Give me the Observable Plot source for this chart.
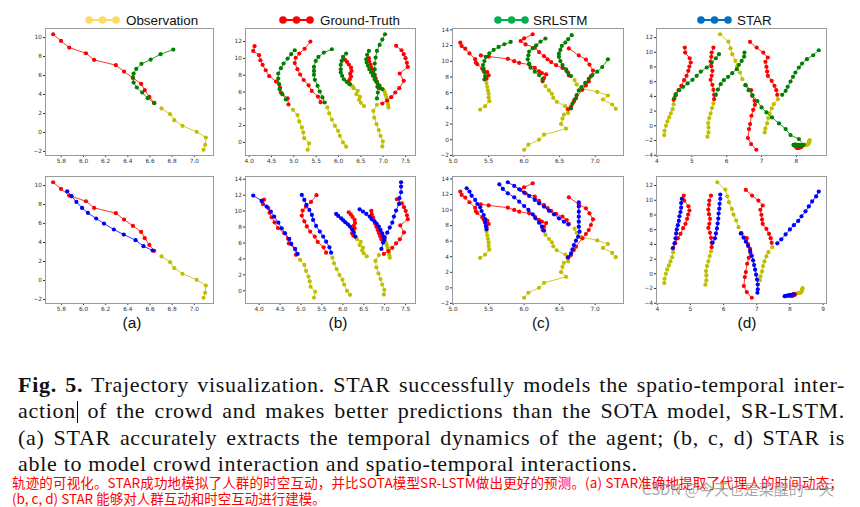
<!DOCTYPE html>
<html><head><meta charset="utf-8">
<script src="https://cdn.jsdelivr.net/npm/d3@7"></script>
<script src="https://cdn.jsdelivr.net/npm/@observablehq/plot@0.6"></script>
<style>
body{margin:0;background:#fff;width:860px;height:507px;position:relative;overflow:hidden;font-family:"Liberation Sans",Arial,sans-serif;}
.cap{position:absolute;left:18px;font-family:"Liberation Serif","DejaVu Serif",serif;font-size:22px;letter-spacing:0.7px;line-height:22px;color:#111;white-space:nowrap;}
.cap span.t{white-space:nowrap;display:inline-block;}
.cur{display:inline-block;width:1.2px;height:22px;background:#000;vertical-align:-5px;margin-left:1px;}
.cn{position:absolute;left:12px;font-family:"Noto Sans CJK SC",sans-serif;font-size:13.5px;line-height:15px;color:#ff0000;white-space:nowrap;}
.wm{position:absolute;left:642px;top:480px;font-family:"Noto Sans CJK SC",sans-serif;font-size:15px;line-height:17px;color:rgba(140,140,140,0.75);white-space:nowrap;}
.plab{position:absolute;font-family:"Liberation Sans",Arial,sans-serif;font-size:15.5px;color:#111;transform:translateX(-50%);}
</style></head><body>
<script>
// ---------------- DATA ----------------
// legend
const legendLabels = ["Observation", "Ground-Truth", "SRLSTM", "STAR"];
const legendColors = ["#ffd966", "#ff0000", "#00b050", "#0070c0"];
const panelLabels = ["(a)", "(b)", "(c)", "(d)"];

// tick values
const aXTicks = [5.8, 6.0, 6.2, 6.4, 6.6, 6.8, 7.0];
const aYTicks = [-2, 0, 2, 4, 6, 8, 10];
const bXTicks = [4.0, 4.5, 5.0, 5.5, 6.0, 6.5, 7.0, 7.5];
const bYTicks = [0, 2, 4, 6, 8, 10, 12, 14];
const cXTicks = [5.0, 5.5, 6.0, 6.5, 7.0];
const cYTicks = [-2, 0, 2, 4, 6, 8, 10, 12, 14];
const dXTicks = [4, 5, 6, 7, 8, 9];
const dYTicks = [-4, -2, 0, 2, 4, 6, 8, 10, 12];

// panel (a)
const aObs = [[[7.083,-1.82],[7.098,-1.30],[7.104,-0.53],[7.021,0.07],[6.893,0.70],[6.819,1.30],[6.781,1.93],[6.704,2.53]]];
const aGT = [[[6.638,3.12],[6.594,3.75],[6.553,4.46],[6.52,5.12],[6.446,5.75],[6.366,6.42],[6.292,7.09],[6.096,7.65],[6.022,8.35],[5.871,8.95],[5.797,9.65],[5.726,10.35]]];
const aSR = [[[6.638,3.09],[6.579,3.61],[6.529,4.21],[6.481,4.74],[6.452,5.26],[6.445,5.80],[6.452,6.21],[6.476,6.70],[6.523,7.23],[6.606,7.68],[6.695,8.25],[6.81,8.74]]];
const aSTAR = [[[6.624,3.16],[6.541,3.61],[6.47,4.25],[6.363,4.84],[6.274,5.37],[6.185,6.0],[6.114,6.53],[6.04,7.12],[5.987,7.65],[5.936,8.28],[5.892,8.88],[5.853,9.40]]];

// panel (b)
const bObs = [
 [[5.31,-0.87],[5.34,-0.12],[5.23,0.51],[5.21,1.19],[5.18,1.78],[5.12,2.50],[5.08,3.25],[4.98,3.88]],
 [[6.17,-0.51],[6.10,0.0],[6.03,0.79],[5.99,1.39],[5.92,1.98],[5.85,2.73],[5.79,3.45],[5.75,4.16]],
 [[6.57,4.32],[6.50,4.71],[6.46,5.07],[6.48,5.43],[6.40,5.74],[6.43,6.14],[6.34,6.46],[6.31,6.69]],
 [[6.98,-0.48],[6.99,0.12],[6.94,0.79],[6.90,1.47],[6.85,2.18],[6.80,2.95],[6.78,3.75],[6.86,4.48]],
 [[7.12,4.15],[7.11,4.45],[7.10,4.75],[7.08,5.07],[7.07,5.40],[7.05,5.72],[7.03,6.02],[7.00,6.30]]
];
const bGT = [
 [[4.88,4.51],[4.86,5.23],[4.71,5.94],[4.69,6.53],[4.60,7.25],[4.45,7.88],[4.37,8.59],[4.30,9.23],[4.25,9.78],[4.22,10.38],[4.09,10.89],[4.12,11.45]],
 [[5.60,4.79],[5.54,5.46],[5.40,6.13],[5.33,6.80],[5.22,7.43],[5.14,8.08],[5.08,8.72],[5.02,9.44],[5.04,10.07],[5.12,10.57],[5.24,11.15],[5.37,12.0]],
 [[6.25,6.93],[6.22,7.21],[6.25,7.52],[6.28,7.84],[6.26,8.16],[6.29,8.51],[6.28,8.91],[6.23,9.27],[6.19,9.58],[6.14,9.86]],
 [[6.98,4.63],[7.09,4.99],[7.18,5.39],[7.27,5.94],[7.36,6.46],[7.46,7.33],[7.37,8.20],[7.55,8.99],[7.53,9.47],[7.50,10.02],[7.46,10.50],[7.41,10.97],[7.29,11.49]],
 [[6.92,6.46],[6.89,6.85],[6.86,7.25],[6.83,7.64],[6.80,8.04],[6.77,8.44],[6.74,8.83],[6.72,9.23],[6.69,9.62],[6.68,10.02]]
];
const bSR = [
 [[4.82,5.11],[4.74,5.74],[4.68,6.34],[4.67,6.93],[4.65,7.60],[4.65,8.20],[4.71,8.83],[4.77,9.39],[4.86,9.98],[4.94,10.50],[5.02,10.97]],
 [[5.69,4.75],[5.64,5.35],[5.58,6.06],[5.53,6.73],[5.47,7.45],[5.45,8.04],[5.45,8.51],[5.45,8.99],[5.49,9.70],[5.55,10.18],[5.67,10.69],[5.85,11.09]],
 [[6.25,6.93],[6.18,7.21],[6.12,7.52],[6.08,7.92],[6.05,8.32],[6.05,8.71],[6.05,9.23],[6.07,9.70],[6.10,10.18],[6.17,10.57]],
 [[6.86,5.23],[6.88,5.94],[6.87,6.61],[6.83,7.33],[6.81,8.04],[6.81,8.71],[6.81,9.39],[6.83,10.10],[6.86,10.89],[6.92,11.60],[6.98,12.24],[7.04,12.87]],
 [[6.98,6.34],[6.92,6.73],[6.86,7.13],[6.81,7.52],[6.77,7.92],[6.73,8.32],[6.69,8.71],[6.66,9.11],[6.63,9.50],[6.62,9.90],[6.64,10.42],[6.68,10.89]]
];
const bSTAR = [
 [[4.92,4.63],[4.86,5.26],[4.77,5.88],[4.72,6.51],[4.62,7.22],[4.54,7.85],[4.46,8.56],[4.36,9.31],[4.28,9.94],[4.18,10.57],[4.06,11.28],[3.86,11.95]],
 [[5.72,4.79],[5.68,5.46],[5.60,6.18],[5.53,6.80],[5.45,7.43],[5.36,8.14],[5.29,8.90],[5.26,9.52],[5.20,10.15],[5.13,10.78],[5.08,11.41],[5.02,12.03]],
 [[6.30,6.80],[6.26,7.31],[6.22,7.72],[6.17,8.06],[6.12,8.35],[6.06,8.60],[6.01,8.85],[5.96,9.10],[5.89,9.40],[5.84,9.65]],
 [[6.92,5.26],[6.96,6.05],[7.00,6.68],[7.06,7.31],[7.12,7.93],[7.18,8.56],[7.22,9.31],[7.27,10.07],[7.34,10.90],[7.35,11.62],[7.39,12.37],[7.39,13.08],[7.39,13.62]],
 [[6.99,6.38],[6.97,6.80],[6.94,7.22],[6.90,7.64],[6.86,8.06],[6.81,8.39],[6.76,8.69],[6.69,8.98],[6.64,9.31],[6.56,9.65],[6.48,9.94],[6.40,10.23]]
];

// panel (c)
const cObs = [
 [[5.38,3.85],[5.45,4.28],[5.51,4.92],[5.50,5.39],[5.50,5.86],[5.49,6.28],[5.48,6.75],[5.47,7.22]],
 [[6.0,-1.27],[6.06,-0.63],[6.21,0.01],[6.28,0.65],[6.59,1.42],[6.52,2.02],[6.54,2.70],[6.56,3.21]],
 [[6.62,3.40],[6.61,3.85],[6.58,4.28],[6.46,4.83],[6.41,5.34],[6.39,5.86],[6.35,6.28],[6.30,6.84]],
 [[7.29,3.94],[7.24,4.49],[7.11,5.13],[7.18,5.64],[7.03,6.10],[6.80,6.55],[6.74,7.05],[6.71,7.60]]
];
const cGT = [
 [[5.47,7.78],[5.50,8.21],[5.48,8.63],[5.43,8.76],[5.41,9.06],[5.34,9.62],[5.32,9.84],[5.31,10.27],[5.23,11.0],[5.17,11.60],[5.12,11.94],[5.10,12.37]],
 [[6.62,3.91],[6.66,4.21],[6.70,4.86],[6.73,5.29],[6.82,6.36],[6.87,6.92],[6.91,7.43],[6.94,8.08],[6.97,8.81],[6.92,9.58],[6.87,10.22],[6.77,10.74],[6.63,11.64]],
 [[6.26,7.45],[6.28,7.86],[6.31,8.33],[6.25,8.50],[6.21,8.72],[6.15,9.15],[6.07,9.58],[5.93,9.79],[5.86,10.01],[5.77,10.31],[5.50,10.60],[5.39,10.74]],
 [[6.63,8.20],[6.60,8.72],[6.54,9.15],[6.45,9.50],[6.38,9.90],[6.33,10.25],[6.28,10.65],[6.21,11.17],[6.15,11.73],[6.02,12.15],[5.95,12.58],[6.00,12.93],[6.12,13.44]]
];
const cSR = [
 [[5.44,7.69],[5.45,8.12],[5.44,8.63],[5.43,9.05],[5.42,9.52],[5.44,10.03],[5.46,10.55],[5.51,11.01],[5.57,11.44],[5.64,11.83],[5.72,12.17],[5.81,12.46]],
 [[6.66,3.98],[6.68,4.58],[6.71,5.13],[6.74,5.68],[6.77,6.28],[6.81,6.71],[6.86,7.26],[6.91,7.77],[6.96,8.24],[7.03,8.67],[7.10,9.27],[7.18,10.25]],
 [[6.26,7.69],[6.21,8.24],[6.15,8.67],[6.09,9.18],[6.07,9.69],[6.05,10.25],[6.06,10.76],[6.07,11.23],[6.12,11.65],[6.17,12.04],[6.23,12.50],[6.30,12.89]],
 [[6.66,8.12],[6.62,8.54],[6.59,8.97],[6.54,9.52],[6.51,10.03],[6.49,10.55],[6.49,10.97],[6.51,11.44],[6.53,11.95],[6.58,12.38],[6.62,12.81],[6.67,13.32]]
];
const cSTAR = [
 [[5.47,7.52],[5.46,7.95],[5.45,8.38],[5.45,8.85],[5.43,9.36],[5.40,9.88],[5.38,10.35],[5.34,10.78],[5.31,11.30],[5.26,11.85],[5.23,12.37],[5.19,12.80]],
 [[6.62,3.91],[6.66,4.43],[6.68,4.94],[6.70,5.50],[6.73,6.06],[6.76,6.57],[6.78,7.22],[6.77,7.86],[6.77,8.51],[6.77,9.15],[6.77,9.79],[6.77,10.44],[6.77,11.0]],
 [[6.28,7.35],[6.25,7.86],[6.21,8.38],[6.16,8.94],[6.12,9.45],[6.06,10.01],[6.0,10.52],[5.93,11.08],[5.86,11.64],[5.77,12.15],[5.70,12.71],[5.65,13.31]],
 [[6.62,8.16],[6.56,8.51],[6.49,8.94],[6.42,9.45],[6.35,9.92],[6.28,10.44],[6.21,10.87],[6.15,11.30],[6.07,11.81],[6.0,12.24],[5.93,12.67],[5.86,13.10],[5.77,13.57]]
];

// panel (d)
const dObs = [
 [[4.21,-1.26],[4.22,-0.67],[4.26,0.01],[4.30,0.60],[4.35,1.14],[4.40,1.68],[4.45,2.27],[4.48,2.95]],
 [[5.45,-1.48],[5.48,-0.90],[5.48,-0.22],[5.47,0.37],[5.50,1.05],[5.54,1.68],[5.58,2.41],[5.62,3.04]],
 [[5.81,12.45],[6.05,11.46],[6.11,10.55],[6.16,9.74],[6.25,8.83],[6.30,8.06],[6.38,7.25],[6.45,6.34]],
 [[7.09,-0.90],[7.11,-0.35],[7.16,0.33],[7.19,1.05],[7.23,1.68],[7.29,2.36],[7.35,2.95],[7.47,3.63]],
 [[8.38,-1.95],[8.37,-2.10],[8.36,-2.28],[8.35,-2.42],[8.33,-2.52],[8.30,-2.58],[8.26,-2.62],[8.21,-2.65]]
];
const dGT = [
 [[4.48,3.54],[4.54,4.17],[4.62,4.85],[4.70,5.44],[4.78,6.21],[4.85,6.80],[4.90,7.48],[4.93,8.06],[4.97,8.61],[4.94,9.19],[4.81,9.96],[4.80,10.64]],
 [[5.64,3.63],[5.64,4.22],[5.62,4.90],[5.59,5.57],[5.54,6.25],[5.57,6.80],[5.59,7.48],[5.56,8.11],[5.54,8.74],[5.56,9.38],[5.57,9.96],[5.62,10.64]],
 [[6.54,5.53],[6.70,4.85],[6.73,4.08],[6.80,3.40],[6.81,2.86],[6.76,2.18],[6.71,1.37],[6.67,0.24],[6.64,-0.44],[6.61,-1.67],[6.70,-2.48],[6.85,-3.25]],
 [[7.45,4.22],[7.42,4.85],[7.37,5.44],[7.29,6.12],[7.18,6.80],[7.16,7.38],[7.14,8.02],[7.11,8.70],[7.18,9.29],[7.05,9.96],[6.86,10.64],[6.67,11.41]],
 [[8.14,-2.75],[8.10,-2.80],[8.07,-2.86],[8.04,-2.92],[8.01,-2.97],[8.03,-3.02],[8.07,-3.00],[8.11,-2.93],[8.15,-2.85],[8.10,-2.83],[8.05,-2.88],[8.00,-2.93]]
];
const dSR = [
 [[4.50,3.76],[4.54,4.31],[4.64,4.85],[4.75,5.30],[4.88,5.76],[5.02,6.25],[5.14,6.80],[5.26,7.38],[5.43,7.93],[5.57,8.61],[5.69,9.19],[5.78,9.74]],
 [[5.69,4.22],[5.75,4.94],[5.83,5.67],[5.92,6.21],[6.04,6.66],[6.16,7.16],[6.29,7.70],[6.35,8.29],[6.43,8.83],[6.50,9.42],[6.51,9.96]],
 [[6.54,5.53],[6.63,4.85],[6.74,4.17],[6.88,3.36],[7.00,2.50],[7.14,1.82],[7.30,1.14],[7.50,0.33],[7.69,-0.44],[7.83,-1.26],[8.07,-1.80],[8.21,-2.57]],
 [[7.59,4.22],[7.69,4.76],[7.75,5.30],[7.83,6.03],[7.90,6.66],[7.97,7.25],[8.07,7.93],[8.16,8.47],[8.30,9.06],[8.48,9.60],[8.64,10.28]],
 [[8.15,-2.62],[8.10,-2.60],[8.06,-2.58],[8.02,-2.57],[7.98,-2.56],[7.95,-2.56],[7.92,-2.57],[7.92,-2.62],[7.95,-2.68],[7.97,-2.76]]
];
const dSTAR = [
 [[4.47,3.48],[4.52,4.15],[4.55,4.83],[4.57,5.50],[4.59,6.04],[4.62,6.62],[4.65,7.20],[4.67,7.83],[4.70,8.41],[4.72,9.00],[4.72,9.62],[4.74,10.21]],
 [[5.67,4.24],[5.74,4.83],[5.77,5.50],[5.80,6.17],[5.82,6.84],[5.84,7.52],[5.85,8.19],[5.87,8.86],[5.88,9.53],[5.90,10.21],[5.90,10.79]],
 [[6.52,5.50],[6.60,4.92],[6.67,4.38],[6.74,3.79],[6.80,3.12],[6.85,2.45],[6.89,1.82],[6.92,1.19],[6.95,0.57],[6.98,-0.11],[7.01,-0.78],[7.03,-1.45],[7.03,-2.10],[7.02,-2.57]],
 [[7.62,4.15],[7.74,4.69],[7.87,5.36],[8.00,6.04],[8.12,6.62],[8.25,7.20],[8.35,7.83],[8.47,8.50],[8.57,9.17],[8.67,9.85],[8.79,10.52],[8.87,11.19]],
 [[8.12,-2.80],[8.06,-2.85],[8.01,-2.88],[7.97,-2.92],[7.93,-2.96],[7.89,-3.00],[7.86,-3.03],[7.84,-3.05]]
];

// caption text
const captionLines = [
  "Trajectory visualization. STAR successfully models the spatio-temporal inter-",
  "of the crowd and makes better predictions than the SOTA model, SR-LSTM.",
  "(a) STAR accurately extracts the temporal dynamics of the agent; (b, c, d) STAR is",
  "able to model crowd interaction and spatio-temporal interactions."
];
const cnLines = [
  "轨迹的可视化。STAR成功地模拟了人群的时空互动，并比SOTA模型SR-LSTM做出更好的预测。(a) STAR准确地提取了代理人的时间动态；",
  "(b, c, d) STAR 能够对人群互动和时空互动进行建模。"
];
const watermark = "CSDN @今天也是菜醒的一天";

// ---------------- DRAWING ----------------
const PLOT_COL = {obs:"#bfbf00", gt:"#ff0000", sr:"#008000", star:"#0000ff"};
const rowsOf = agents => agents.flatMap((pts, i) => pts.map(([x, y]) => ({x, y, agent: i})));
function domainOf(v){const lo=d3.min(v),hi=d3.max(v),m=(hi-lo)*0.05;return [lo-m,hi+m];}

function drawPanel(p){
  const groups = p.series.map(s => ({rows: rowsOf(s.data), color: s.color}));
  const all = groups.flatMap(g => g.rows);
  const xd = domainOf(all.map(d=>d.x)), yd = domainOf(all.map(d=>d.y));
  const xt = p.xTicks.filter(t=>t>=xd[0]&&t<=xd[1]);
  const yt = p.yTicks.filter(t=>t>=yd[0]&&t<=yd[1]);
  const ml=24, mr=3, mt=3, mb=14;
  const w = p.frame[1]-p.frame[0], h = p.frame[3]-p.frame[2];
  const chart = Plot.plot({
    width: w+ml+mr, height: h+mt+mb,
    marginLeft: ml, marginRight: mr, marginTop: mt, marginBottom: mb,
    x: {domain: xd}, y: {domain: yd},
    style: {fontSize: "5.8px", fontFamily: "'DejaVu Sans', sans-serif", color: "#333", background: "transparent", overflow: "visible"},
    marks: [
      Plot.axisX({ticks: xt, tickFormat: p.xFormat, tickSize: 2, tickPadding: 1.5, label: null}),
      Plot.axisY({ticks: yt, tickFormat: d3.format("d"), tickSize: 2, tickPadding: 1.5, label: null}),
      ...groups.flatMap(g => [
        Plot.line(g.rows, {x: "x", y: "y", z: "agent", stroke: g.color, strokeWidth: 1, strokeOpacity: 0.8}),
        Plot.dot(g.rows, {x: "x", y: "y", r: 2.1, fill: g.color})
      ]),
      Plot.frame({stroke: "#9a9a9a", strokeWidth: 1})
    ]
  });
  chart.style.position = "absolute";
  chart.style.left = (p.frame[0]-ml) + "px";
  chart.style.top = (p.frame[2]-mt) + "px";
  document.body.appendChild(chart);
}

const f1 = d3.format(".1f"), f0 = d3.format("d");
const cols = [[45,213],[245,415],[452,623],[656,826]];
const rowsY = [[28,155],[176,303]];
const panelDefs = [
  {obs:aObs, gt:aGT, sr:aSR, star:aSTAR, xT:aXTicks, yT:aYTicks, fmt:f1},
  {obs:bObs, gt:bGT, sr:bSR, star:bSTAR, xT:bXTicks, yT:bYTicks, fmt:f1},
  {obs:cObs, gt:cGT, sr:cSR, star:cSTAR, xT:cXTicks, yT:cYTicks, fmt:f1},
  {obs:dObs, gt:dGT, sr:dSR, star:dSTAR, xT:dXTicks, yT:dYTicks, fmt:f0}
];
panelDefs.forEach((d, i) => {
  [0,1].forEach(r => {
    const pred = r === 0 ? {data: d.sr, color: PLOT_COL.sr} : {data: d.star, color: PLOT_COL.star};
    drawPanel({
      frame: [cols[i][0], cols[i][1], rowsY[r][0], rowsY[r][1]],
      series: [{data: d.obs, color: PLOT_COL.obs}, {data: d.gt, color: PLOT_COL.gt}, pred],
      xTicks: d.xT, yTicks: d.yT, xFormat: d.fmt
    });
  });
  const lab = document.createElement("div");
  lab.className = "plab";
  lab.textContent = panelLabels[i];
  lab.style.left = ([132,338,541,747][i]) + "px";
  lab.style.top = "314px";
  document.body.appendChild(lab);
});

// legend
const legendPos = [[89,126],[283,320],[498,533],[701,737]];
const NS = "http://www.w3.org/2000/svg";
const lg = document.createElementNS(NS, "svg");
lg.setAttribute("width", 860); lg.setAttribute("height", 34);
lg.style.position = "absolute"; lg.style.left = "0"; lg.style.top = "0";
legendLabels.forEach((t, i) => {
  const [cx, tx] = legendPos[i];
  const line = document.createElementNS(NS, "line");
  line.setAttribute("x1", cx); line.setAttribute("x2", cx+27); line.setAttribute("y1", 20); line.setAttribute("y2", 20);
  line.setAttribute("stroke", legendColors[i]); line.setAttribute("stroke-width", 2);
  lg.appendChild(line);
  [0, 13.5, 27].forEach(dx => {
    const c = document.createElementNS(NS, "circle");
    c.setAttribute("cx", cx+dx); c.setAttribute("cy", 20); c.setAttribute("r", 3.8);
    c.setAttribute("fill", legendColors[i]);
    lg.appendChild(c);
  });
  const tt = document.createElementNS(NS, "text");
  tt.setAttribute("x", tx); tt.setAttribute("y", 25);
  tt.setAttribute("font-family", "'Liberation Sans', Arial, sans-serif");
  tt.setAttribute("font-size", 13.4); tt.setAttribute("fill", "#111");
  tt.textContent = t;
  lg.appendChild(tt);
});
document.body.appendChild(lg);

// caption
const capTops = [374, 400, 427, 453];
const capTargets = [827, 827, 827, null];
captionLines.forEach((t, i) => {
  const div = document.createElement("div");
  div.className = "cap";
  div.style.top = capTops[i] + "px";
  const span = document.createElement("span");
  span.className = "t";
  if (i === 0) {
    const b = document.createElement("b"); b.textContent = "Fig. 5."; span.appendChild(b);
    span.appendChild(document.createTextNode(" " + t));
  } else if (i === 1) {
    span.appendChild(document.createTextNode("action"));
    const cur = document.createElement("span"); cur.className = "cur"; span.appendChild(cur);
    span.appendChild(document.createTextNode(" " + t));
  } else {
    span.textContent = t;
  }
  div.appendChild(span);
  document.body.appendChild(div);
  if (capTargets[i]) {
    const w = span.getBoundingClientRect().width;
    const n = (span.textContent.match(/ /g) || []).length;
    span.style.wordSpacing = ((capTargets[i] - w) / n) + "px";
  }
});
const cnTops = [475, 491];
cnLines.forEach((t, i) => {
  const div = document.createElement("div");
  div.className = "cn"; div.style.top = cnTops[i] + "px"; div.textContent = t;
  document.body.appendChild(div);
  if (i === 0) {
    const w = div.getBoundingClientRect().width;
    div.style.letterSpacing = ((831 - w) / t.length) + "px";
  }
});
const wm = document.createElement("div");
wm.className = "wm"; wm.textContent = watermark;
document.body.appendChild(wm);
</script>
</body></html>
